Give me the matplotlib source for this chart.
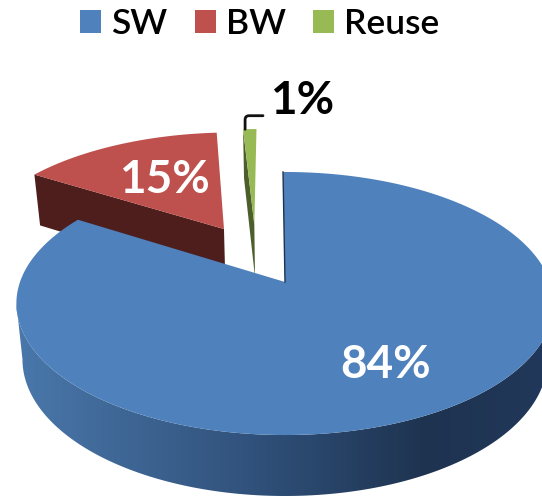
import numpy as np
import matplotlib

matplotlib.use("Agg")
import matplotlib.pyplot as plt
from matplotlib.colors import LinearSegmentedColormap
from matplotlib.patches import Patch, Polygon

labels = ["SW", "BW", "Reuse"]
shares = [84, 15, 1]
share_text = ["84%", "15%", "1%"]

TOP_COLORS = ["#4F81BD", "#BE504D", "#97BA55"]
WALL_COLORS = ["#2B4A70", "#4D1E1C", "#4C5E2B"]
# explode offsets on the pie disc, per slice
EXPLODE = [(0.0, 0.0), (-0.247, 0.444), (-0.125, 0.485)]

# perspective of the pie in pixel space
APEX_X = 285
TOP_Y, BOTTOM_Y = 282, 337
SCALE_X_TOP, SCALE_X_BOTTOM = 265, 259
SCALE_Y_TOP, SCALE_Y_BOTTOM = 128, 133
TILT = 0.1635


def project(x, y, bottom=False):
    """Map disc coordinates to pixels, for the top face or the bottom rim."""
    w = 1 + TILT * y
    if bottom:
        return APEX_X + SCALE_X_BOTTOM * x / w, BOTTOM_Y - SCALE_Y_BOTTOM * y / w
    return APEX_X + SCALE_X_TOP * x / w, TOP_Y - SCALE_Y_TOP * y / w


def rim(start, end, offset, bottom=False):
    angles = np.radians(np.linspace(start, end, max(int(abs(end - start)) * 2, 2)))
    return project(offset[0] + np.sin(angles), offset[1] + np.cos(angles), bottom)


def draw_slice(ax, start, end, offset, top_color, wall_color):
    """Radial wall facing the viewer, then the top face."""
    sx, sy = np.sin(np.radians(start)), np.cos(np.radians(start))
    corners = [
        project(offset[0] + sx, offset[1] + sy),
        project(*offset),
        project(*offset, bottom=True),
        project(offset[0] + sx, offset[1] + sy, bottom=True),
    ]
    ax.fill(*zip(*corners), color=wall_color, lw=0)
    rx, ry = rim(start, end, offset)
    cx, cy = project(*offset)
    ax.fill(np.r_[cx, rx], np.r_[cy, ry], color=top_color, lw=0)
    return rx, ry


fig = plt.figure(figsize=(5.42, 4.97), dpi=100)
ax = fig.add_axes([0, 0, 1, 1])
ax.axis("off")

plt.rcParams["font.family"] = ["Lato", "DejaVu Sans"]

# slice angles clockwise from twelve o'clock
edges = np.cumsum([0] + shares) * 3.6 - 0.5

draw_slice(ax, edges[1], edges[2], EXPLODE[1], TOP_COLORS[1], WALL_COLORS[1])
gx, gy = draw_slice(ax, edges[2], edges[3], EXPLODE[2], TOP_COLORS[2], WALL_COLORS[2])

# blue outer wall: horizontal gradient clipped to the rim band,
# ending where the side of the cylinder turns out of sight
off = EXPLODE[0]
wall_end = 270 - np.degrees(np.arcsin(TILT))
tx, ty = rim(85, wall_end, off)
bx, by = rim(85, wall_end, off, bottom=True)
shade = LinearSegmentedColormap.from_list(
    "wall",
    [(0.0, "#4A78AB"), (0.474, "#2F4F78"), (0.777, "#1E3350"), (1.0, "#22385A")],
)
band = Polygon(np.c_[np.r_[tx, bx[::-1]], np.r_[ty, by[::-1]]], transform=ax.transData)
gradient = ax.imshow(
    np.linspace(0, 1, 512)[None, :],
    cmap=shade,
    extent=(15, 545, 497, 200),
    aspect="auto",
    interpolation="bilinear",
)
gradient.set_clip_path(band)

ax.set_xlim(0, 542)
ax.set_ylim(497, 0)

# blue top face
cx, cy = project(*off)
tx, ty = rim(edges[0], edges[1], off)
ax.plot([cx, tx[0]], [cy, ty[0]], color="#1E3350", lw=1.0)
ax.fill(np.r_[cx, tx], np.r_[cy, ty], color=TOP_COLORS[0], lw=0)

# value labels
ax.text(386, 365, share_text[0], color="white", fontsize=33, fontweight="bold",
        ha="center", va="center")
ax.text(164, 180, share_text[1], color="white", fontsize=33, fontweight="bold",
        ha="center", va="center")
ax.annotate(
    share_text[2],
    xy=(gx[0] + 2, gy[0]),
    xytext=(302, 101),
    color="black",
    fontsize=33,
    fontweight="bold",
    ha="center",
    va="center",
    arrowprops=dict(
        arrowstyle="-",
        color="#111111",
        lw=2.0,
        shrinkA=3,
        shrinkB=0,
        relpos=(0, 0.15),
        connectionstyle="angle,angleA=0,angleB=90,rad=4",
    ),
)

handles = [Patch(facecolor=c, edgecolor="none") for c in TOP_COLORS]
ax.legend(
    handles,
    labels,
    loc="upper left",
    bbox_to_anchor=(80 / 542, 1 - 8 / 497),
    borderaxespad=0,
    borderpad=0,
    ncol=3,
    frameon=False,
    prop={"size": 25.5, "weight": "semibold"},
    handlelength=0.6,
    handleheight=0.6,
    handletextpad=0.28,
    columnspacing=0.77,
)

fig.savefig("out.png", dpi=100)
